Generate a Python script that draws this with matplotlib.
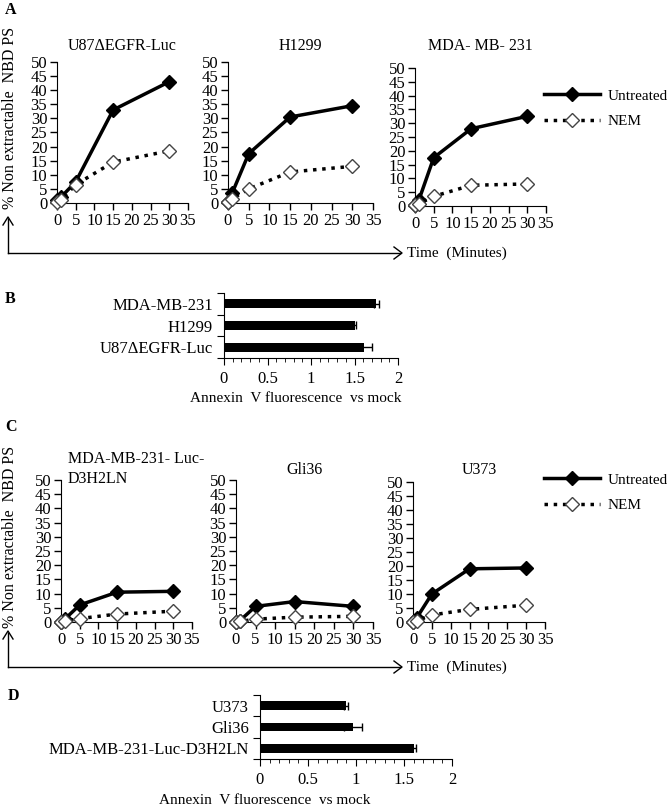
import matplotlib
matplotlib.use("Agg")
import matplotlib.pyplot as plt
from matplotlib.ticker import MultipleLocator, FixedLocator, FuncFormatter

plt.rcParams['font.family'] = ['Liberation Serif', 'DejaVu Serif']
plt.rcParams['font.size'] = 11

W, H = 669, 805

# ---- data ----
times = [0, 1, 5, 15, 30]

a_titles = ["U87\u0394EGFR-Luc", "H1299", "MDA- MB- 231"]
a_untreated = [[1, 2, 7.5, 33, 43],
               [0.5, 3.5, 17.5, 30.5, 34.5],
               [0.5, 2, 17.5, 28, 32.5]]
a_nem = [[0.5, 1, 6.5, 14.5, 18.5],
         [0.5, 1.5, 5, 11, 13],
         [0.5, 0.8, 3.5, 7.5, 8]]

c_titles = ["MDA-MB-231- Luc-\nD3H2LN", "Gli36", "U373"]
c_untreated = [[0, 1, 6, 10.5, 10.8],
               [0, 0.5, 5.5, 7.2, 5.5],
               [0, 1.5, 10, 19, 19.3]]
c_nem = [[0, 0.3, 1.2, 2.8, 3.8],
         [0, 0.2, 1, 1.7, 2],
         [0, 0.5, 2.5, 4.5, 6]]

b_cells = ["U87\u0394EGFR-Luc", "H1299", "MDA-MB-231"]
b_vals = [1.61, 1.50, 1.75]
b_err = [0.09, 0.02, 0.03]

d_cells = ["MDA-MB-231-Luc-D3H2LN", "Gli36", "U373"]
d_vals = [1.60, 0.97, 0.90]
d_err = [0.03, 0.09, 0.02]

fig = plt.figure(figsize=(W / 100, H / 100), dpi=100)


def ax_px(x0, x1, ytop, ybot):
    return fig.add_axes([x0 / W, 1 - ybot / H, (x1 - x0) / W, (ybot - ytop) / H])


def line_panel(ax, unt, nem, title, title_gap, title_left=False):
    ax.plot(times, unt, '-', color='black', lw=2.5, marker='D', ms=7,
            mfc='black', mec='black', label='Untreated', clip_on=False, zorder=3)
    ax.plot(times, nem, ':', color='black', lw=2.5, marker='D', ms=7,
            mfc='white', mec='#444444', mew=1, label='NEM', clip_on=False, zorder=3)
    ax.set_xlim(0, 35)
    ax.set_ylim(0, 50)
    ax.xaxis.set_major_locator(MultipleLocator(5))
    ax.yaxis.set_major_locator(MultipleLocator(5))
    for s in ['top', 'right']:
        ax.spines[s].set_visible(False)
    ax.tick_params(direction='out', length=5, width=1, pad=2, labelsize=12)
    hpx = ax.get_position().height * H
    yy = 1 + title_gap / hpx
    if title_left:
        ax.text(0.05, yy, title, transform=ax.transAxes, ha='left', va='center',
                fontsize=11.5, linespacing=1.35)
    else:
        ax.text(0.5, yy, title, transform=ax.transAxes, ha='center', va='center',
                fontsize=11.5)


def bar_panel(ax, cells, vals, err):
    pos = list(range(len(cells)))
    ax.barh(pos, vals, height=0.42, color='black', xerr=err,
            error_kw=dict(ecolor='black', capsize=3, elinewidth=1, capthick=1))
    ax.set_xlim(0, 2)
    ax.set_ylim(-0.5, len(cells) - 0.5)
    ax.xaxis.set_major_locator(MultipleLocator(0.5))
    ax.xaxis.set_minor_locator(MultipleLocator(0.1))
    ax.xaxis.set_major_formatter(FuncFormatter(lambda v, p: f"{v:g}"))
    ax.yaxis.set_major_locator(FixedLocator([p - 0.5 for p in pos] + [len(cells) - 0.5]))
    ax.yaxis.set_minor_locator(FixedLocator(pos))
    ax.yaxis.set_major_formatter(FuncFormatter(lambda v, p: ""))
    ax.set_yticklabels(cells, minor=True)
    ax.tick_params(axis='y', which='minor', length=0, pad=8, labelsize=12)
    ax.tick_params(axis='y', which='major', length=5)
    ax.tick_params(axis='x', which='major', length=5, labelsize=12, pad=4)
    ax.tick_params(axis='x', which='minor', length=3)
    for s in ['top', 'right']:
        ax.spines[s].set_visible(False)


# ---- panel A ----
a_boxes = [(57, 188, 62, 203), (228, 373, 62, 203), (415, 546, 68, 206)]
a_gaps = [16, 16, 22]
a_axes = []
for i, box in enumerate(a_boxes):
    ax = ax_px(*box)
    line_panel(ax, a_untreated[i], a_nem[i], a_titles[i], a_gaps[i])
    a_axes.append(ax)

# ---- panel C ----
c_boxes = [(61, 192, 480, 622), (236, 373, 480, 622), (413, 545, 482, 622)]
c_gaps = [11, 10, 12]
c_axes = []
for i, box in enumerate(c_boxes):
    ax = ax_px(*box)
    line_panel(ax, c_untreated[i], c_nem[i], c_titles[i], c_gaps[i], title_left=(i == 0))
    c_axes.append(ax)

# ---- panel B and D ----
axb = ax_px(224, 398, 293, 358)
bar_panel(axb, b_cells, b_vals, b_err)
axd = ax_px(260, 452, 695, 759)
bar_panel(axd, d_cells, d_vals, d_err)

# ---- legends ----
for axs, ytop in [(a_axes, 83), (c_axes, 467)]:
    h, l = axs[0].get_legend_handles_labels()
    fig.legend(h, l, loc='upper left', bbox_to_anchor=(538 / W, 1 - ytop / H),
               frameon=False, handlelength=3.66, labelspacing=0.75, fontsize=11,
               handletextpad=0.5, borderaxespad=0)

# ---- L-shaped arrows and axis labels ----
for ybase, ylab in [(253, 118), (667, 537)]:
    fig.add_artist(plt.Line2D([8 / W, 400 / W], [1 - ybase / H] * 2, color='black', lw=1))
    fig.add_artist(plt.Line2D([8 / W] * 2, [1 - ybase / H, 1 - (ybase - 34) / H],
                              color='black', lw=1))
    fig.add_artist(plt.Line2D([394 / W, 402 / W, 394 / W],
                              [1 - (ybase - 6) / H, 1 - ybase / H, 1 - (ybase + 6) / H],
                              color='black', lw=1))
    fig.add_artist(plt.Line2D([3 / W, 8 / W, 13 / W],
                              [1 - (ybase - 28) / H, 1 - (ybase - 36) / H, 1 - (ybase - 28) / H],
                              color='black', lw=1))
    fig.text(407 / W, 1 - ybase / H, "Time  (Minutes)", ha='left', va='center', fontsize=11)
    fig.text(10 / W, 1 - ylab / H, "% Non extractable  NBD PS", rotation=90,
             ha='center', va='center', fontsize=11.5)

fig.text(296 / W, 1 - 398 / H, "Annexin  V fluorescence  vs mock", ha='center', va='center',
         fontsize=11)
fig.text(265 / W, 1 - 800 / H, "Annexin  V fluorescence  vs mock", ha='center', va='center',
         fontsize=11)

# panel letters
for letter, (x, y) in zip("ABCD", [(5, 10), (5, 299), (5, 427), (8, 696)]):
    fig.text(x / W, 1 - y / H, letter, fontweight='bold', fontsize=11.5, ha='left', va='center')

fig.savefig("out.png", dpi=100)
